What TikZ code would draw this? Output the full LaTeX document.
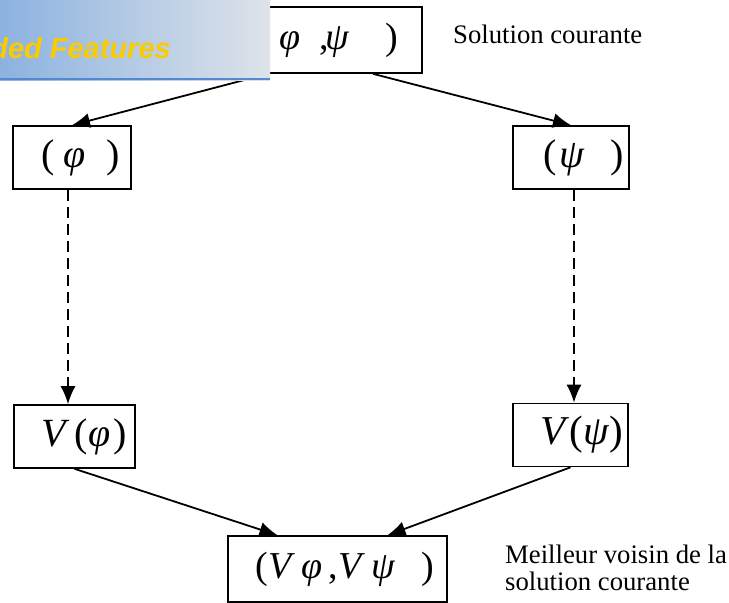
\documentclass[tikz,border=0pt]{standalone}
\usepackage{fontspec}
\setmainfont{Liberation Serif}
\newfontfamily\bannerfont{Liberation Sans}
\usetikzlibrary{arrows.meta}
\definecolor{bannerblue}{RGB}{140,178,224}
\definecolor{bannergray}{RGB}{222,227,233}
\definecolor{bannerline}{RGB}{84,137,208}
\definecolor{bannertext}{RGB}{250,204,0}

\begin{document}
\begin{tikzpicture}[x=1pt,y=-1pt,
    box/.style={draw, line width=1.6pt, inner sep=0pt, minimum height=63pt},
    link/.style={line width=1.8pt, -{Latex[length=18pt,width=15pt]}},
    dlink/.style={link, dash pattern=on 11pt off 6pt},
    lbl/.style={font=\fontsize{26.7}{27}\selectfont, inner sep=0pt}]
  \useasboundingbox (0,0) rectangle (729,603);
  % current solution
  \node[box, anchor=east, inner xsep=24pt, minimum height=66pt, font=\fontsize{38}{42}\selectfont] (cur) at (423,40) {(\hspace{14pt}\textit{φ}\hspace{19pt},\hspace{-4pt}\textit{ψ}\hspace{36pt})};
  \node[lbl, anchor=base west] (curlbl) at (453,43) {Solution courante};
  % the two parts
  \node[box, minimum width=118pt, font=\fontsize{40}{44}\selectfont] (solphi) at (72,157.5) {\hspace*{17pt}(\hspace{9pt}\textit{φ}\hspace{21pt})};
  \node[box, minimum width=116pt, font=\fontsize{40}{44}\selectfont] (solpsi) at (571,157.5) {\hspace*{26pt}(\hspace{2pt}\textit{ψ}\hspace{26pt})};
  % neighbourhoods
  \node[box, minimum width=121pt, font=\fontsize{40}{44}\selectfont] (nbphi) at (74.5,436.5) {\hspace*{19pt}\textit{V}\hspace{5pt}(\textit{φ}\hspace{3pt})};
  \node[box, minimum width=115pt, font=\fontsize{41}{45}\selectfont] (nbpsi) at (570.5,435) {\hspace*{23pt}\textit{V}(\textit{ψ})};
  % best neighbour
  \node[box, minimum width=219pt, minimum height=66pt, font=\fontsize{38}{42}\selectfont] (best) at (337.5,569) {\hspace*{15pt}(\textit{V}\,\textit{φ}\,,\textit{V}\,\textit{ψ}\hspace{26pt})};
  \node[lbl, anchor=base west, align=left] (bestlbl) at (505,590) {Meilleur voisin de la\\solution courante};
  % connectors
  \draw[link] ([xshift=-155pt]cur.south east) -- (solphi.north);
  \draw[link] ([xshift=-50pt]cur.south east) -- (solpsi.north);
  \draw[dlink] ([xshift=-4pt]solphi.south) -- ([xshift=-4pt]solphi.south |- nbphi.north);
  \draw[dlink] ([xshift=3pt]solpsi.south) -- ([xshift=3pt]solpsi.south |- nbpsi.north);
  \draw[link] (nbphi.south) -- ([xshift=-60pt]best.north);
  \draw[link] (nbpsi.south) -- ([xshift=50pt]best.north);
  % banner on top
  \shade[left color=bannerblue, right color=bannergray] (0,0) rectangle (270,80);
  \draw[bannerline, line width=2.5pt] (0,79) -- (270,79);
  \begin{scope}
    \clip (0,0) rectangle (270,80);
    \node[anchor=base east, inner sep=0pt, text=bannertext, font=\bannerfont\fontsize{29}{33}\bfseries\itshape\selectfont] (banner) at (171,58) {Embedded Features};
  \end{scope}
\end{tikzpicture}
\end{document}
